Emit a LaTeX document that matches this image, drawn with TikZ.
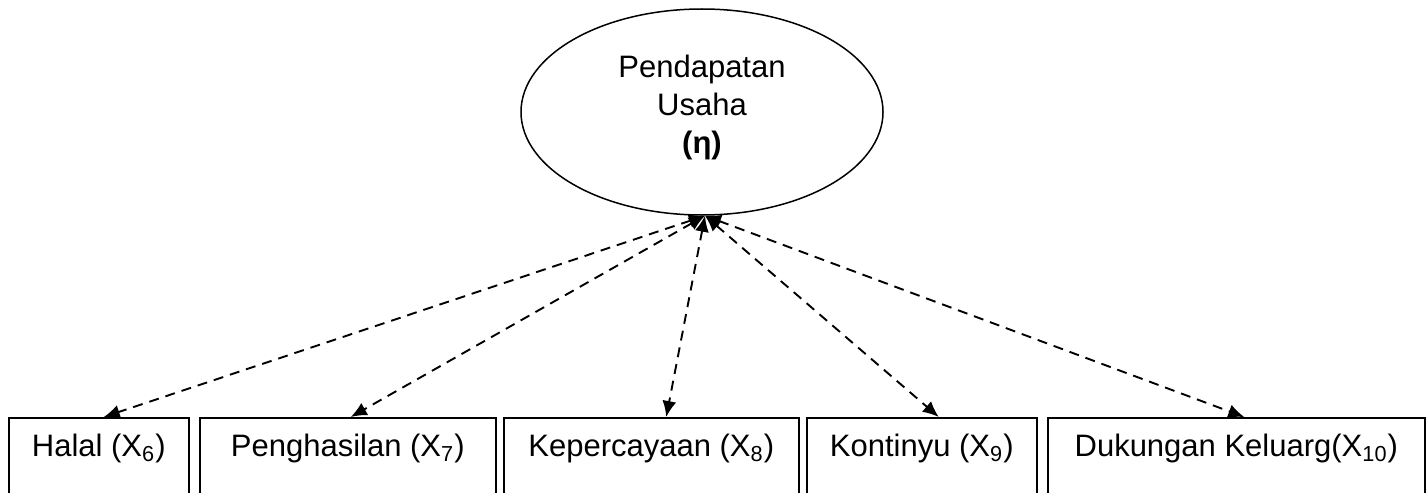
\documentclass[tikz,border=0pt]{standalone}
\usepackage{fontspec}
\setmainfont{Liberation Sans}
\usetikzlibrary{shapes.geometric,arrows.meta}
\begin{document}
\begin{tikzpicture}[x=0.5pt,y=-0.5pt,
  box/.style={draw,line width=0.75pt,rectangle,inner xsep=0pt,inner ysep=0pt,
    anchor=north west,text height=19.5pt,text depth=45pt,
    font=\fontsize{15.5}{18}\selectfont},
  link/.style={dash pattern=on 5pt off 3.5pt,line width=0.95pt,
    {Latex[length=8pt,width=7pt]}-{Latex[length=8pt,width=7pt]}}]
\useasboundingbox (0,0) rectangle (1427,492);
\clip (0,0) rectangle (1427,492);
\node[draw,ellipse,line width=0.75pt,minimum width=181pt,minimum height=103pt,
  inner sep=0pt] (E) at (702,112) {};
\node[align=center,inner sep=0pt,font=\fontsize{15.5}{19}\selectfont]
  (EL) at (702,107) {Pendapatan\\Usaha\\\textbf{(η)}};
\node[box,minimum width=90pt] (b1) at (8,417) {Halal (X\textsubscript{6})};
\node[box,minimum width=148pt] (b2) at (199,417) {Penghasilan (X\textsubscript{7})};
\node[box,minimum width=147.5pt] (b3) at (503,417) {Kepercayaan (X\textsubscript{8})};
\node[box,minimum width=115pt] (b4) at (806,417) {Kontinyu (X\textsubscript{9})};
\node[box,minimum width=188.5pt] (b5) at (1047,417) {Dukungan Keluarg(X\textsubscript{10})};
\coordinate (h) at ([xshift=1.5pt]E.south);
\coordinate (t1) at ([xshift=2.5pt]b1.north);
\coordinate (t2) at ([xshift=1.5pt]b2.north);
\coordinate (t3) at ([xshift=7.5pt]b3.north);
\coordinate (t4) at ([xshift=8.5pt]b4.north);
\coordinate (t5) at ([xshift=4pt]b5.north);
\foreach \t in {t1,t2,t3,t4,t5} \draw[link] (h) -- (\t);
\end{tikzpicture}
\end{document}
